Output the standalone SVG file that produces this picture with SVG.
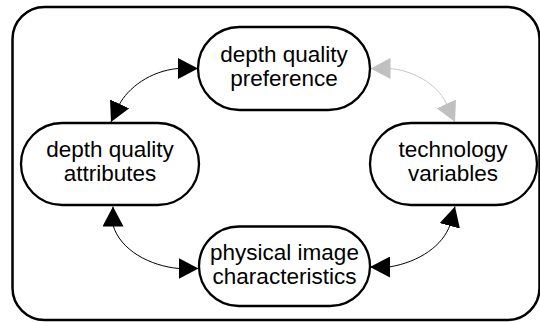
<svg xmlns="http://www.w3.org/2000/svg" width="540" height="322" viewBox="0 0 540 322">
  <style>
    .frame { fill: none; stroke: #000; stroke-width: 2.5; }
    .node rect { fill: #fff; stroke: #000; stroke-width: 2.3; }
    .node text { font-family: "Liberation Sans", Arial, sans-serif; font-size: 22.5px; fill: #000; text-anchor: middle; }
    .edge { fill: none; stroke: #000; stroke-width: 1; }
    .edge.faint { stroke: #c8c8c8; }
  </style>
  <defs>
    <marker id="head" markerUnits="userSpaceOnUse" viewBox="0 0 20 21" refX="20" refY="10.5" markerWidth="20" markerHeight="21" orient="auto-start-reverse">
      <path d="M0,0 L20,10.5 L0,21 Z" fill="#000"/>
    </marker>
    <marker id="head-faint" markerUnits="userSpaceOnUse" viewBox="0 0 20 21" refX="20" refY="10.5" markerWidth="20" markerHeight="21" orient="auto-start-reverse">
      <path d="M0,0 L20,10.5 L0,21 Z" fill="#c0c0c0"/>
    </marker>
  </defs>

  <rect class="frame" x="12.5" y="7" width="527" height="313" rx="32" ry="32"/>

  <g id="connectors">
    <path class="edge" d="M198,68.5 L178,68.5 C150,71 128,88 119,105 L111,122" marker-start="url(#head)" marker-end="url(#head)"/>
    <path class="edge faint" d="M370.5,68.5 L390,68.5 C418,71 440,88 447,105 L455,122" marker-start="url(#head-faint)" marker-end="url(#head-faint)"/>
    <path class="edge" d="M113,206.5 L113,225 C120,250 150,266 179,268.5 L198.5,268.5" marker-start="url(#head)" marker-end="url(#head)"/>
    <path class="edge" d="M370,267 L389,267 C420,262 443,245 450,225 L455,206.5" marker-start="url(#head)" marker-end="url(#head)"/>
  </g>

  <g id="depth-quality-preference" class="node">
    <rect x="198" y="27" width="172" height="83" rx="41.5" ry="41.5"/>
    <text x="284" y="61.5">depth quality</text>
    <text x="284" y="85.5">preference</text>
  </g>

  <g id="depth-quality-attributes" class="node">
    <rect x="21" y="123" width="178" height="82" rx="41" ry="41"/>
    <text x="110" y="157">depth quality</text>
    <text x="110" y="181">attributes</text>
  </g>

  <g id="technology-variables" class="node">
    <rect x="370" y="123" width="167" height="82" rx="41" ry="41"/>
    <text x="453" y="157">technology</text>
    <text x="453" y="181">variables</text>
  </g>

  <g id="physical-image-characteristics" class="node">
    <rect x="199" y="226.5" width="171" height="79.5" rx="39.75" ry="39.75"/>
    <text x="284.5" y="260">physical image</text>
    <text x="284.5" y="284">characteristics</text>
  </g>
</svg>
